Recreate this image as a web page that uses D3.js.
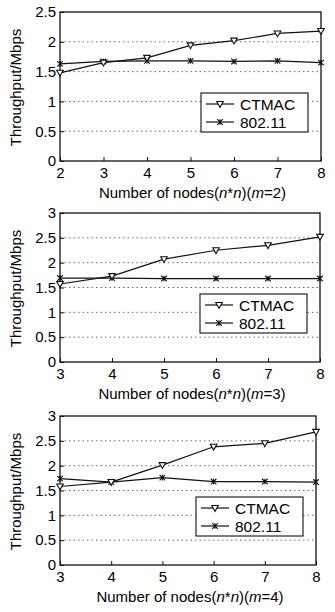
<!DOCTYPE html>
<html>
<head>
<meta charset="utf-8">
<script src="https://cdn.jsdelivr.net/npm/d3@7"></script>
<style>
  body { margin: 0; background: #fff; }
  svg text { font-family: "Liberation Sans", Arial, sans-serif; fill: #000; }
</style>
</head>
<body>
<svg id="chart"></svg>
<script>
// Data
const xNodesM2 = [2, 3, 4, 5, 6, 7, 8];
const ctmacM2 = [1.48, 1.65, 1.73, 1.94, 2.02, 2.14, 2.18];
const wifiM2 = [1.63, 1.67, 1.68, 1.68, 1.67, 1.68, 1.65];

const xNodesM3 = [3, 4, 5, 6, 7, 8];
const ctmacM3 = [1.57, 1.73, 2.07, 2.25, 2.35, 2.52];
const wifiM3 = [1.69, 1.69, 1.68, 1.68, 1.68, 1.68];

const xNodesM4 = [3, 4, 5, 6, 7, 8];
const ctmacM4 = [1.58, 1.67, 2.01, 2.38, 2.45, 2.68];
const wifiM4 = [1.74, 1.67, 1.76, 1.68, 1.68, 1.67];

const yTicksM2 = [0, 0.5, 1, 1.5, 2, 2.5];
const yTicksM3 = [0, 0.5, 1, 1.5, 2, 2.5, 3];
const seriesNames = ['CTMAC', '802.11'];

const panels = [
    { m: 2, x: xNodesM2, ctmac: ctmacM2, wifi: wifiM2, yMax: 2.5, yTicks: yTicksM2, top: 12, right: 321 },
    { m: 3, x: xNodesM3, ctmac: ctmacM3, wifi: wifiM3, yMax: 3, yTicks: yTicksM3, top: 213, right: 320 },
    { m: 4, x: xNodesM4, ctmac: ctmacM4, wifi: wifiM4, yMax: 3, yTicks: yTicksM3, top: 416, right: 316 }
];

const config = { width: 335, height: 612, left: 60, plotHeight: 149 };

const svg = d3.select('#chart')
    .attr('width', config.width)
    .attr('height', config.height);

// marker shapes
function triangleDown(g, x, y) {
    g.append('path')
        .attr('d', `M${x - 3.3},${y - 2.5} L${x + 3.3},${y - 2.5} L${x},${y + 3.3} Z`)
        .attr('fill', '#fff').attr('stroke', '#111').attr('stroke-width', 1.1);
}
function starMark(g, x, y) {
    const s = 2.8;
    g.append('path')
        .attr('d', `M${x - s},${y - s} L${x + s},${y + s} M${x - s},${y + s} L${x + s},${y - s} M${x},${y - s} L${x},${y + s}`)
        .attr('stroke', '#111').attr('stroke-width', 1.1);
}

panels.forEach(p => {
    const g = svg.append('g');
    const x = d3.scaleLinear().domain([p.x[0], p.x[p.x.length - 1]]).range([config.left, p.right]);
    const y = d3.scaleLinear().domain([0, p.yMax]).range([p.top + config.plotHeight, p.top]);
    const x0 = x.range()[0], x1 = x.range()[1];
    const y0 = y.range()[0], y1 = y.range()[1];

    // dotted horizontal grid
    g.selectAll('.grid')
        .data(p.yTicks.slice(1, -1))
        .enter().append('line')
        .attr('x1', x0).attr('x2', x1)
        .attr('y1', d => y(d)).attr('y2', d => y(d))
        .attr('stroke', '#444').attr('stroke-width', 0.8)
        .attr('stroke-dasharray', '1.5,3');

    // axes with inward ticks
    const yAxis = d3.axisLeft(y).tickValues(p.yTicks).tickSizeInner(-4).tickSizeOuter(0).tickPadding(4)
        .tickFormat(d3.format('~g'));
    const xAxis = d3.axisBottom(x).tickValues(p.x).tickSizeInner(-4).tickSizeOuter(0).tickPadding(6)
        .tickFormat(d3.format('d'));

    const ya = g.append('g').attr('transform', `translate(${x0},0)`).call(yAxis);
    const xa = g.append('g').attr('transform', `translate(0,${y0})`).call(xAxis);
    [ya, xa].forEach(a => {
        a.select('.domain').remove();
        a.selectAll('line').attr('stroke', '#111');
        a.selectAll('text').attr('font-size', 15).attr('fill', '#000');
    });

    // frame
    g.append('rect')
        .attr('x', x0).attr('y', y1)
        .attr('width', x1 - x0).attr('height', y0 - y1)
        .attr('fill', 'none').attr('stroke', '#111').attr('stroke-width', 1.3);

    // series lines
    const line = d3.line().x((d, i) => x(p.x[i])).y(d => y(d));
    g.append('path').datum(p.wifi).attr('d', line)
        .attr('fill', 'none').attr('stroke', '#111').attr('stroke-width', 1.2);
    g.append('path').datum(p.ctmac).attr('d', line)
        .attr('fill', 'none').attr('stroke', '#111').attr('stroke-width', 1.2);
    p.wifi.forEach((v, i) => starMark(g, x(p.x[i]), y(v)));
    p.ctmac.forEach((v, i) => triangleDown(g, x(p.x[i]), y(v)));

    // axis titles
    g.append('text')
        .attr('transform', `translate(21,${(y0 + y1) / 2 + 1}) rotate(-90)`)
        .attr('text-anchor', 'middle')
        .attr('font-size', 15)
        .text('Throughput/Mbps');

    const t = g.append('text')
        .attr('x', (x0 + x1) / 2 + 2)
        .attr('y', y0 + 37)
        .attr('text-anchor', 'middle')
        .attr('font-size', 15);
    t.append('tspan').text('Number of nodes(');
    t.append('tspan').attr('font-style', 'italic').text('n');
    t.append('tspan').text('*');
    t.append('tspan').attr('font-style', 'italic').text('n');
    t.append('tspan').text(')(');
    t.append('tspan').attr('font-style', 'italic').text('m');
    t.append('tspan').text(`=${p.m})`);

    // legend
    const lw = 107, lh = 39;
    const lx = x1 - 13 - lw, ly = y1 + 81;
    const lg = g.append('g');
    lg.append('rect').attr('x', lx).attr('y', ly).attr('width', lw).attr('height', lh)
        .attr('fill', '#fff').attr('stroke', '#111').attr('stroke-width', 1.1);
    seriesNames.forEach((name, i) => {
        const yy = ly + 11 + i * 18;
        lg.append('line').attr('x1', lx + 5).attr('x2', lx + 33).attr('y1', yy).attr('y2', yy)
            .attr('stroke', '#111').attr('stroke-width', 1.2);
        if (i === 0) triangleDown(lg, lx + 19, yy); else starMark(lg, lx + 19, yy);
        lg.append('text').attr('x', lx + 39).attr('y', yy + 5.5)
            .attr('font-size', 15.5).text(name);
    });
});
</script>
</body>
</html>
